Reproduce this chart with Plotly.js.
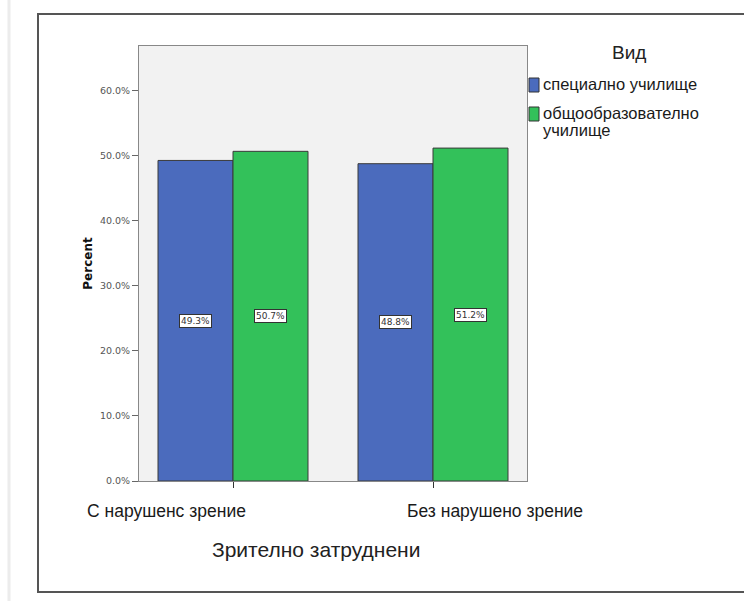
<!DOCTYPE html>
<html>
<head>
<meta charset="utf-8">
<script src="https://cdn.plot.ly/plotly-3.0.1.min.js"></script>
<style>
  html, body { margin: 0; padding: 0; background: #ffffff; }
  #chart { width: 744px; height: 601px; }
</style>
</head>
<body>
<div id="chart"></div>
<script>
// Visual impairment groups (x categories)
const categories = ['С нарушенс зрение', 'Без нарушено зрение'];
// School type series (legend)
const seriesNames = ['специално училище', 'общообразователно<br>училище'];
const specialSchool = [49.3, 48.8];
const generalSchool = [50.7, 51.2];
const legendTitle = 'Вид';
const xTitle = 'Зрително затруднени';
const yTitle = 'Percent';
const yTicks = [0, 10, 20, 30, 40, 50, 60];

const colors = ['#4b6bbd', '#33c15a'];

// plot frame in pixels
const W = 744, H = 601;
const M = { l: 139, r: 217, t: 46, b: 120 };
const pw = W - M.l - M.r, ph = H - M.t - M.b;
const px = x => (x - M.l) / pw;
const py = y => (H - M.b - y) / ph;

const traces = [specialSchool, generalSchool].map((vals, i) => ({
  type: 'bar',
  x: categories,
  y: vals,
  name: seriesNames[i],
  marker: { color: colors[i], line: { color: '#3a3a3a', width: 1 } },
  hoverinfo: 'skip',
  showlegend: false
}));

const annotations = [];
// value labels in the middle of each bar
[specialSchool, generalSchool].forEach((vals, i) => {
  vals.forEach((v, j) => {
    annotations.push({
      xref: 'x', yref: 'y', x: categories[j], y: v / 2,
      xshift: i === 0 ? -37.5 : 37.5,
      text: v.toFixed(1) + '%', showarrow: false,
      font: { family: 'DejaVu Sans', size: 9, color: '#333' },
      bgcolor: '#ffffff', bordercolor: '#333', borderwidth: 1, borderpad: 1
    });
  });
});
// category labels
const catShift = [-67, 62];
categories.forEach((c, j) => {
  annotations.push({
    xref: 'x', yref: 'paper', x: c, y: py(511), yanchor: 'middle',
    xshift: catShift[j], text: c, showarrow: false,
    font: { family: 'Liberation Sans', size: 17.5, color: '#1a1a1a' }
  });
});
// axis title
annotations.push({
  xref: 'paper', yref: 'paper', x: px(316), y: py(549),
  xanchor: 'center', yanchor: 'middle',
  text: xTitle, showarrow: false,
  font: { family: 'Liberation Sans', size: 21, color: '#222' }
});
// legend
annotations.push({
  xref: 'paper', yref: 'paper', x: px(629), y: py(52),
  xanchor: 'center', yanchor: 'middle',
  text: legendTitle, showarrow: false,
  font: { family: 'Liberation Sans', size: 19, color: '#222' }
});
const legendTops = [78, 107];
const lineGap = 17;
const shapes = [];
seriesNames.forEach((n, i) => {
  const top = legendTops[i];
  shapes.push({
    type: 'rect', xref: 'paper', yref: 'paper',
    x0: px(529), x1: px(539), y0: py(top + 14), y1: py(top),
    fillcolor: colors[i], line: { color: '#333', width: 1 }
  });
  n.split('<br>').forEach((line, k) => {
    annotations.push({
      xref: 'paper', yref: 'paper', x: px(541), y: py(top + 6 + k * lineGap),
      xanchor: 'left', yanchor: 'middle', align: 'left',
      text: line, showarrow: false,
      font: { family: 'Liberation Sans', size: 16.5, color: '#1a1a1a' }
    });
  });
});
// outer frame
shapes.push({
  type: 'rect', xref: 'paper', yref: 'paper',
  x0: px(38), x1: px(770), y0: py(592), y1: py(14),
  line: { color: '#555', width: 2 }, layer: 'below'
});
shapes.push({
  type: 'line', xref: 'paper', yref: 'paper',
  x0: px(9), x1: px(9), y0: py(601), y1: py(0),
  line: { color: '#ececec', width: 3 }, layer: 'below'
});

const layout = {
  width: W, height: H,
  margin: M,
  paper_bgcolor: '#ffffff',
  plot_bgcolor: '#f2f2f2',
  barmode: 'group',
  bargap: 0.25,
  bargroupgap: 0,
  showlegend: false,
  xaxis: {
    type: 'category', range: [-0.47, 1.47],
    showticklabels: false, ticks: 'outside', ticklen: 6, tickcolor: '#333',
    showline: true, mirror: true, linecolor: '#888', linewidth: 1,
    showgrid: false, zeroline: false, fixedrange: true
  },
  yaxis: {
    range: [0, 66.9], tickvals: yTicks,
    ticktext: yTicks.map(v => v.toFixed(1) + '%'),
    ticks: 'outside', ticklen: 6, tickcolor: '#666',
    tickfont: { family: 'DejaVu Sans', size: 9.5, color: '#555' },
    showline: true, mirror: true, linecolor: '#888', linewidth: 1,
    showgrid: false, zeroline: false, fixedrange: true,
    title: { text: yTitle, standoff: 4,
             font: { family: 'DejaVu Sans', size: 12, color: '#111', weight: 'bold' } }
  },
  annotations: annotations,
  shapes: shapes
};

Plotly.newPlot('chart', traces, layout, { displayModeBar: false, staticPlot: true });
</script>
</body>
</html>
